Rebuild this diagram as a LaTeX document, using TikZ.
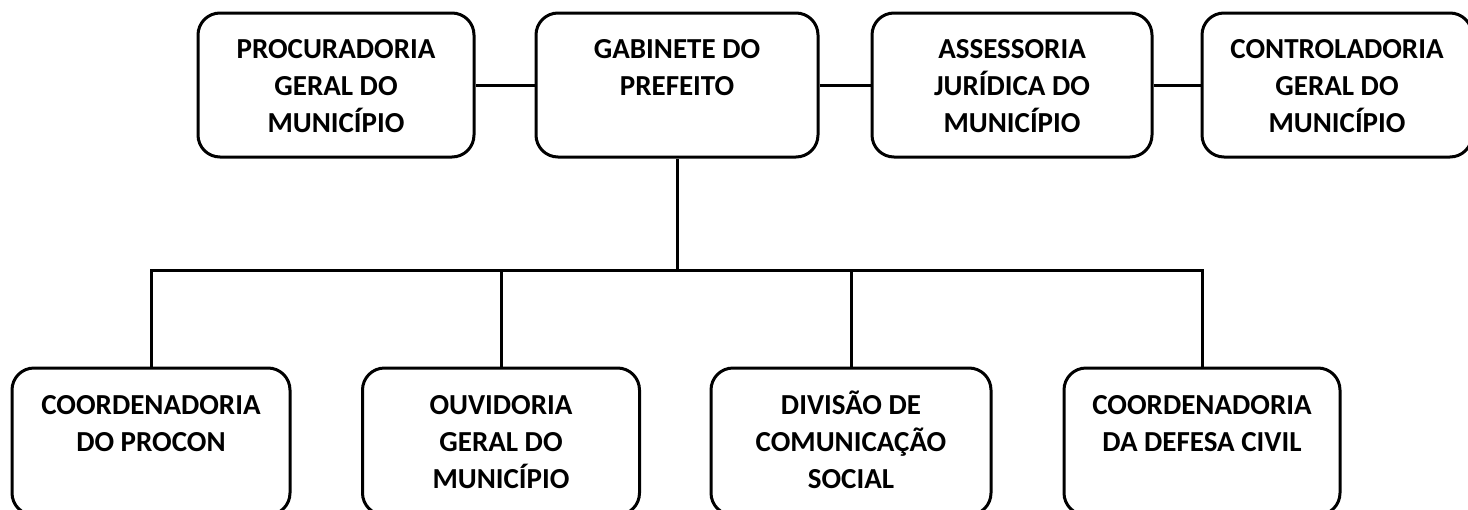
\documentclass[tikz,border=0pt]{standalone}
\usepackage{fontspec}
\setmainfont{Carlito}
\begin{document}
\begin{tikzpicture}[x=1pt,y=-1pt,
  box/.style={draw, line width=3pt, rounded corners=22pt, inner sep=0pt},
  lbl/.style={anchor=north, align=center, inner sep=0pt, font=\bfseries\fontsize{29}{37}\selectfont},
  conn/.style={line width=3pt}]
\useasboundingbox (0,0) rectangle (1468,509);
\fill[white] (0,0) rectangle (1468,509);
% top row
\node[box, minimum width=276pt, minimum height=144pt] (proc) at (336,85) {};
\node[box, minimum width=282pt, minimum height=144pt] (gab) at (677,85) {};
\node[box, minimum width=280pt, minimum height=144pt] (ass) at (1012,85) {};
\node[box, minimum width=270pt, minimum height=144pt] (ctrl) at (1337,85) {};
\node[lbl] (tproc) at (336,32) {\strut PROCURADORIA\\GERAL DO\\MUNICÍPIO};
\node[lbl] (tgab) at (677,32) {\strut GABINETE DO\\PREFEITO};
\node[lbl] (tass) at (1012,32) {\strut ASSESSORIA\\JURÍDICA DO\\MUNICÍPIO};
\node[lbl] (tctrl) at (1337,32) {\strut CONTROLADORIA\\GERAL DO\\MUNICÍPIO};
% bottom row
\node[box, minimum width=278pt, minimum height=147pt] (b1) at (151,441.5) {};
\node[box, minimum width=277pt, minimum height=147pt] (b2) at (501,441.5) {};
\node[box, minimum width=280pt, minimum height=147pt] (b3) at (851,441.5) {};
\node[box, minimum width=276pt, minimum height=147pt] (b4) at (1202,441.5) {};
\node[lbl] (t1) at (151,388) {\strut COORDENADORIA\\DO PROCON};
\node[lbl] (t2) at (501,388) {\strut OUVIDORIA\\GERAL DO\\MUNICÍPIO};
\node[lbl] (t3) at (851,388) {\strut DIVISÃO DE\\COMUNICAÇÃO\\SOCIAL};
\node[lbl] (t4) at (1202,388) {\strut COORDENADORIA\\DA DEFESA CIVIL};
% connectors
\draw[conn] (proc) -- (gab);
\draw[conn] (gab) -- (ass);
\draw[conn] (ass) -- (ctrl);
\coordinate (bus) at (677,270);
\draw[conn] (gab.south) -- (bus);
\draw[conn] (b1.north) -- (b1.north |- bus) -- (b4.north |- bus) -- (b4.north);
\draw[conn] (b2.north) -- (b2.north |- bus);
\draw[conn] (b3.north) -- (b3.north |- bus);
\end{tikzpicture}
\end{document}
